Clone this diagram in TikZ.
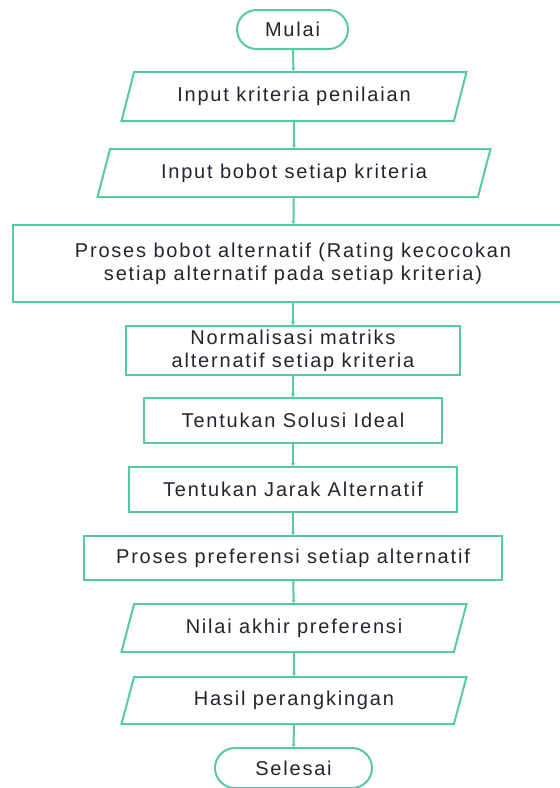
\documentclass[tikz,border=0pt]{standalone}
\usepackage{fontspec}
\setmainfont{Liberation Sans}[LetterSpace=9]
\usetikzlibrary{shapes.geometric,shapes.misc,arrows.meta}

\definecolor{flowline}{RGB}{88,200,166}
\definecolor{flowtext}{RGB}{36,36,48}

\tikzset{
  terminal/.style={rounded rectangle,draw=flowline,line width=2pt,text=flowtext},
  iobox/.style={trapezium,trapezium left angle=56,trapezium right angle=124,trapezium stretches body,draw=flowline,line width=2pt,text=flowtext},
  procbox/.style={rectangle,draw=flowline,line width=2pt,text=flowtext,align=center},
  flow/.style={draw=flowline,line width=2pt,-{Stealth[length=3pt,width=4pt]}}
}

\begin{document}
\begin{tikzpicture}[x=1pt,y=-1pt,font=\fontsize{20}{23}\selectfont,inner sep=0pt]
      \useasboundingbox (0,0) rectangle (560,788);
      \node[terminal,minimum width=111pt,minimum height=39pt] (mulai) at (292.5,29.5) {Mulai};
      \node[iobox,minimum width=345pt,minimum height=49pt] (kriteria) at (294,96.5) {Input kriteria penilaian};
      \node[iobox,minimum width=393pt,minimum height=48pt] (bobot) at (294,173) {Input bobot setiap kriteria};
      \node[procbox,minimum width=560pt,minimum height=77pt] (rating) at (293,263.5) {Proses bobot alternatif (Rating kecocokan\\setiap alternatif pada setiap kriteria)};
      \node[procbox,minimum width=334pt,minimum height=49pt] (normal) at (293,350.5) {Normalisasi matriks\\alternatif setiap kriteria};
      \node[procbox,minimum width=298pt,minimum height=45pt] (ideal) at (293,420.5) {Tentukan Solusi Ideal};
      \node[procbox,minimum width=328pt,minimum height=45pt] (jarak) at (293,489.5) {Tentukan Jarak Alternatif};
      \node[procbox,minimum width=418pt,minimum height=44pt] (pref) at (293,558) {Proses preferensi setiap alternatif};
      \node[iobox,minimum width=345pt,minimum height=48pt] (nilai) at (294,628) {Nilai akhir preferensi};
      \node[iobox,minimum width=345pt,minimum height=47pt] (hasil) at (294,700.5) {Hasil perangkingan};
      \node[terminal,minimum width=157pt,minimum height=40pt] (selesai) at (293.5,768) {Selesai};
      \draw[flow] (mulai) -- (kriteria);
      \draw[flow] (kriteria) -- (bobot);
      \draw[flow] (bobot) -- (rating);
      \draw[flow] (rating) -- (normal);
      \draw[flow] (normal) -- (ideal);
      \draw[flow] (ideal) -- (jarak);
      \draw[flow] (jarak) -- (pref);
      \draw[flow] (pref) -- (nilai);
      \draw[flow] (nilai) -- (hasil);
      \draw[flow] (hasil) -- (selesai);
    \end{tikzpicture}
\end{document}
